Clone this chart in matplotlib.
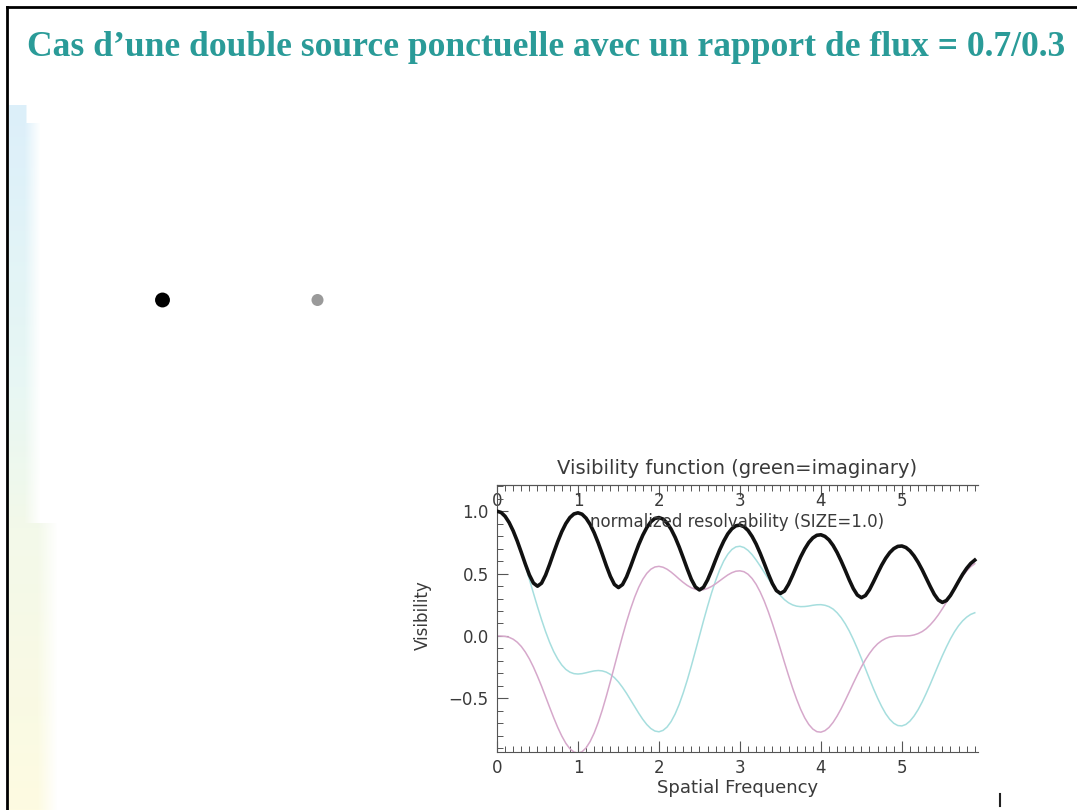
import numpy as np
import matplotlib
matplotlib.use('Agg')
import matplotlib.pyplot as plt
from matplotlib.ticker import MultipleLocator, FixedLocator
from matplotlib.lines import Line2D

# ---- data ----
title = 'Cas d’une double source ponctuelle avec un rapport de flux = 0.7/0.3'
plot_title = 'Visibility function (green=imaginary)'
top_label = 'normalized resolvability (SIZE=1.0)'

src_x = [0.0, 1.0]
src_flux = [0.7, 0.3]

# spatial frequency samples (every 0.05)
freq = np.round(np.arange(0, 5.901, 0.05), 2)

# |V| (black)
vis_amp = [1.000, 0.990, 0.959, 0.909, 0.842, 0.761, 0.670, 0.576, 0.489, 0.424,
           0.399, 0.423, 0.488, 0.574, 0.667, 0.756, 0.836, 0.901, 0.949, 0.978,
           0.987, 0.976, 0.944, 0.894, 0.827, 0.746, 0.656, 0.563, 0.478, 0.413,
           0.388, 0.412, 0.474, 0.557, 0.646, 0.732, 0.807, 0.869, 0.915, 0.942,
           0.949, 0.937, 0.905, 0.856, 0.791, 0.713, 0.626, 0.537, 0.454, 0.393,
           0.369, 0.390, 0.449, 0.526, 0.610, 0.690, 0.760, 0.818, 0.859, 0.883,
           0.889, 0.876, 0.846, 0.798, 0.737, 0.663, 0.582, 0.498, 0.421, 0.364,
           0.341, 0.360, 0.414, 0.485, 0.561, 0.634, 0.697, 0.749, 0.786, 0.807,
           0.811, 0.798, 0.770, 0.726, 0.669, 0.601, 0.527, 0.450, 0.380, 0.328,
           0.307, 0.324, 0.371, 0.435, 0.502, 0.567, 0.623, 0.668, 0.700, 0.718,
           0.721, 0.709, 0.682, 0.642, 0.591, 0.531, 0.464, 0.397, 0.334, 0.288,
           0.269, 0.284, 0.325, 0.380, 0.438, 0.494, 0.542, 0.581, 0.608]

# real part (cyan)
vis_real = [1.000, 0.990, 0.959, 0.909, 0.842, 0.759, 0.665, 0.562, 0.453, 0.343,
            0.234, 0.131, 0.035, -0.051, -0.125, -0.185, -0.233, -0.268, -0.290, -0.302,
            -0.305, -0.302, -0.295, -0.287, -0.280, -0.277, -0.280, -0.290, -0.308, -0.334,
            -0.369, -0.412, -0.460, -0.513, -0.566, -0.619, -0.668, -0.710, -0.742, -0.762,
            -0.768, -0.757, -0.730, -0.686, -0.625, -0.548, -0.456, -0.353, -0.240, -0.121,
            0.000, 0.121, 0.237, 0.346, 0.444, 0.530, 0.601, 0.655, 0.693, 0.714,
            0.719, 0.709, 0.686, 0.652, 0.609, 0.561, 0.510, 0.459, 0.409, 0.364,
            0.324, 0.291, 0.266, 0.249, 0.239, 0.235, 0.236, 0.240, 0.246, 0.250,
            0.251, 0.246, 0.235, 0.216, 0.186, 0.147, 0.098, 0.040, -0.027, -0.101,
            -0.180, -0.262, -0.344, -0.424, -0.498, -0.565, -0.623, -0.668, -0.700, -0.718,
            -0.721, -0.709, -0.682, -0.642, -0.591, -0.530, -0.461, -0.387, -0.310, -0.233,
            -0.158, -0.088, -0.023, 0.034, 0.082, 0.121, 0.151, 0.173, 0.186]

# imaginary part (magenta)
vis_imag = [0.000, -0.001, -0.003, -0.011, -0.026, -0.050, -0.084, -0.129, -0.184, -0.249,
            -0.323, -0.402, -0.487, -0.572, -0.655, -0.733, -0.802, -0.860, -0.904, -0.930,
            -0.939, -0.928, -0.897, -0.846, -0.778, -0.693, -0.594, -0.483, -0.365, -0.243,
            -0.120, 0.000, 0.114, 0.218, 0.311, 0.390, 0.454, 0.502, 0.535, 0.553,
            0.558, 0.551, 0.535, 0.512, 0.485, 0.456, 0.429, 0.405, 0.386, 0.374,
            0.369, 0.371, 0.381, 0.397, 0.418, 0.442, 0.466, 0.489, 0.507, 0.519,
            0.522, 0.515, 0.495, 0.461, 0.414, 0.353, 0.280, 0.195, 0.101, 0.000,
            -0.105, -0.212, -0.316, -0.416, -0.507, -0.588, -0.656, -0.709, -0.746, -0.767,
            -0.771, -0.759, -0.733, -0.693, -0.642, -0.583, -0.517, -0.449, -0.379, -0.312,
            -0.248, -0.190, -0.140, -0.097, -0.063, -0.038, -0.020, -0.008, -0.003, 0.000,
            0.000, 0.000, 0.002, 0.008, 0.019, 0.035, 0.058, 0.089, 0.126, 0.169,
            0.218, 0.270, 0.324, 0.378, 0.431, 0.479, 0.521, 0.555, 0.579]

xticks = [0, 1, 2, 3, 4, 5]
yticks = [-0.5, 0.0, 0.5, 1.0]

# ---- figure ----
W, H = 1077, 810
fig = plt.figure(figsize=(W / 100, H / 100), dpi=100)
fig.patch.set_facecolor('white')


def fx(px):
    return px / W


def fy(py):
    return 1 - py / H


# pale blue->yellow strip on the left of the slide
rows, cols = 705, 50
t = np.linspace(0, 1, rows)
stops = [0, 0.4, 0.6, 1]
img = np.ones((rows, cols, 4))
img[..., 0] = (np.interp(t, stops, [214, 228, 241, 254]) / 255)[:, None]
img[..., 1] = (np.interp(t, stops, [237, 246, 248, 251]) / 255)[:, None]
img[..., 2] = (np.interp(t, stops, [250, 242, 230, 220]) / 255)[:, None]
xc = np.arange(cols)[None, :]
r_idx = np.arange(rows)
solid = np.where(r_idx < 18, 16, np.where(r_idx < 418, 15, 28))[:, None]
fade = np.where(r_idx < 18, 2, np.where(r_idx < 418, 16, 20))[:, None]
img[..., 3] = np.clip(1 - (xc - solid) / fade, 0, 1) * 0.85
ax_bg = fig.add_axes([fx(9), 0, cols / W, (H - 105) / H])
ax_bg.imshow(img, aspect='auto', interpolation='bilinear')
ax_bg.axis('off')

# slide border
fig.add_artist(Line2D([fx(7), 1], [fy(7), fy(7)], transform=fig.transFigure, color='black', lw=2))
fig.add_artist(Line2D([fx(7), fx(7)], [fy(7), 0], transform=fig.transFigure, color='black', lw=2))
fig.add_artist(Line2D([fx(1000), fx(1000)], [fy(794), fy(806)], transform=fig.transFigure,
                      color='#222222', lw=1.5))

fig.text(fx(27), fy(48), title, family='Liberation Serif', weight='bold', size=25.6,
         color='#2a9b98', ha='left', va='center')

# the two point sources
ax_src = fig.add_axes([fx(85), fy(350), fx(395) - fx(85), fy(250) - fy(350)])
ax_src.set_xlim(-0.5, 1.5)
ax_src.set_ylim(-1, 1)
ax_src.axis('off')
ax_src.scatter(src_x, [0, 0], s=[115, 75], c=['black', '#9a9a9a'], edgecolors='none')

# visibility plot
txt = '#3a3a3a'
ax = fig.add_axes([fx(497), fy(752), fx(978) - fx(497), fy(485) - fy(752)])
ax.plot(freq, vis_real, color='#a6dede', lw=1.1, zorder=2)
ax.plot(freq, vis_imag, color='#d6a8cb', lw=1.1, zorder=2)
ax.plot(freq, vis_amp, color='#111111', lw=2.6, zorder=3)
ax.set_xlim(0, 5.94)
ax.set_ylim(-0.93, 1.21)

for s in ['left', 'bottom', 'top']:
    ax.spines[s].set_color('#555555')
    ax.spines[s].set_linewidth(0.8)
ax.spines['right'].set_visible(False)

ax.xaxis.set_major_locator(FixedLocator(xticks))
ax.xaxis.set_minor_locator(MultipleLocator(0.1))
ax.yaxis.set_major_locator(FixedLocator(yticks))
ax.yaxis.set_minor_locator(MultipleLocator(0.1))
ax.set_xticklabels([str(v) for v in xticks])
ax.set_yticklabels([('%.1f' % v).replace('-', '\u2212') for v in yticks])
ax.tick_params(axis='both', which='both', direction='in', colors='#555555',
               labelcolor=txt, labelsize=12, top=False, right=False)
ax.tick_params(axis='both', which='major', length=8, width=0.8)
ax.tick_params(axis='both', which='minor', length=4, width=0.7)
ax.tick_params(axis='x', pad=5)
ax.tick_params(axis='y', pad=6)

sec = ax.secondary_xaxis('top')
sec.xaxis.set_major_locator(FixedLocator(xticks))
sec.xaxis.set_minor_locator(MultipleLocator(0.1))
sec.set_xticklabels([str(v) for v in xticks])
sec.tick_params(axis='x', which='both', direction='in', colors='#555555',
                labelcolor=txt, labelsize=12, pad=-18)
sec.tick_params(axis='x', which='major', length=8, width=0.8)
sec.tick_params(axis='x', which='minor', length=4, width=0.7)
sec.spines['top'].set_color('#555555')

ax.text(0.5, 0.862, top_label, transform=ax.transAxes, ha='center', va='center',
        fontsize=12, color=txt, zorder=4)
ax.text(0.5, 1 + 7 / 267, plot_title, transform=ax.transAxes, ha='center', va='bottom',
        fontsize=14, color=txt)

ax.set_xlabel('Spatial Frequency', fontsize=13, color=txt)
ax.xaxis.set_label_coords(0.5, -0.102)
ax.set_ylabel('Visibility', fontsize=12, color=txt)
ax.yaxis.set_label_coords(-0.135, 0.513)

fig.savefig('out.png', dpi=100, facecolor='white')
